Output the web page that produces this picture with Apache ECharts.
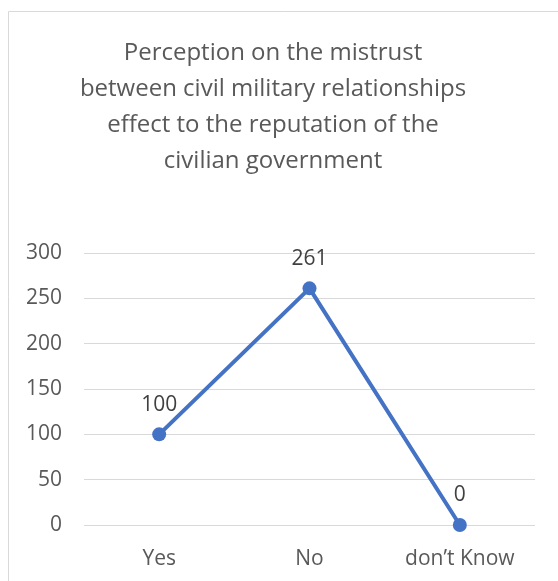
<!DOCTYPE html>
<html>
<head>
<meta charset="utf-8">
<script src="https://cdn.jsdelivr.net/npm/echarts@6/dist/echarts.min.js"></script>
<style>
  html, body { margin: 0; padding: 0; background: #ffffff; }
  #chart { width: 558px; height: 581px; }
</style>
</head>
<body>
<div id="chart"></div>
<script>
// Survey responses
const categories = ['Yes', 'No', 'don\u2019t Know'];
const responses = [100, 261, 0];
const yTicks = [0, 50, 100, 150, 200, 250, 300];

const titleLines = [
  'Perception on the mistrust',
  'between civil military relationships',
  'effect to the reputation of the',
  'civilian government'
];

const FONT = '"Open Sans", "Liberation Sans", sans-serif';

const chart = echarts.init(document.getElementById('chart'), null, { renderer: 'canvas' });

chart.setOption({
  backgroundColor: '#ffffff',
  animation: false,
  graphic: [{
    type: 'rect',
    shape: { x: 8.5, y: 11.5, width: 600, height: 600 },
    style: { fill: 'none', stroke: '#d9d9d9', lineWidth: 1 },
    silent: true,
    z: -1
  }],
  title: {
    text: titleLines.join('\n'),
    left: 268,
    top: 30,
    textAlign: 'center',
    textStyle: {
      fontFamily: FONT,
      fontSize: 24,
      fontWeight: 'normal',
      color: '#595959',
      lineHeight: 36
    }
  },
  grid: { left: 84, right: 23, top: 253, bottom: 56 },
  xAxis: {
    type: 'category',
    data: categories,
    boundaryGap: true,
    axisLine: { show: false },
    axisTick: { show: false },
    axisLabel: {
      fontFamily: FONT,
      fontSize: 21,
      color: '#595959',
      margin: 24
    }
  },
  yAxis: {
    type: 'value',
    min: yTicks[0],
    max: yTicks[yTicks.length - 1],
    interval: yTicks[1] - yTicks[0],
    axisLine: { show: false },
    axisTick: { show: false },
    splitLine: { lineStyle: { color: '#d9d9d9', width: 1 } },
    axisLabel: {
      fontFamily: FONT,
      fontSize: 21,
      color: '#595959',
      margin: 22
    }
  },
  series: [{
    type: 'line',
    data: responses,
    symbol: 'circle',
    symbolSize: 14,
    lineStyle: { color: '#4472c4', width: 4 },
    itemStyle: { color: '#4472c4' },
    label: {
      show: true,
      position: 'top',
      distance: 12,
      fontFamily: FONT,
      fontSize: 21,
      color: '#404040'
    }
  }]
});
</script>
</body>
</html>
